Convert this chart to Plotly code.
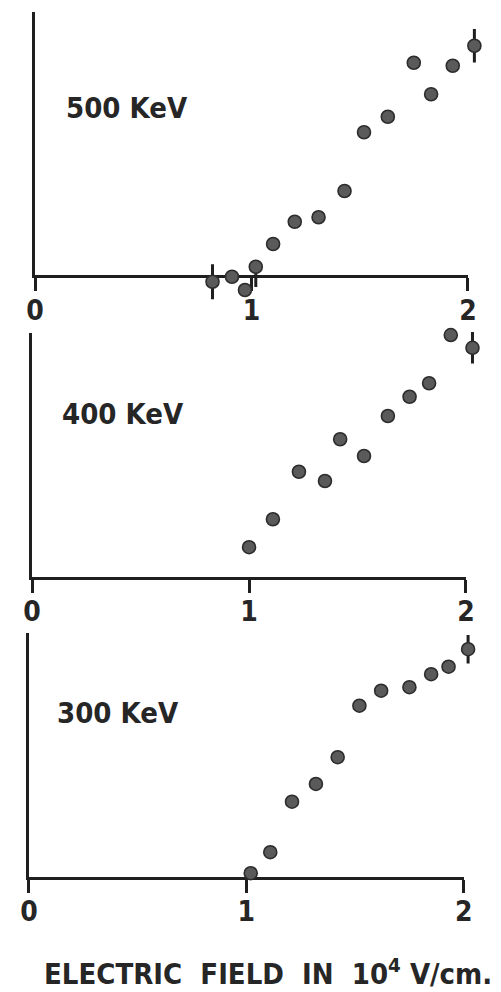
import plotly.graph_objects as go

# ---- data (relative units; horizontal axis: electric field in 10^4 V/cm) ----
energies = ["500 KeV", "400 KeV", "300 KeV"]

x500 = [0.82, 0.91, 0.97, 1.02, 1.10, 1.20, 1.31, 1.43, 1.52, 1.63, 1.75, 1.83, 1.93, 2.03]
y500 = [-0.27, -0.07, -0.60, 0.33, 1.24, 2.13, 2.31, 3.36, 5.71, 6.33, 8.49, 7.23, 8.37, 9.17]
e500_plus = [0.70, 0, 0, 0.20, 0, 0, 0, 0, 0, 0, 0, 0, 0, 0.67]
e500_minus = [0.70, 0, 0, 0.81, 0, 0, 0, 0, 0, 0, 0, 0, 0, 0.67]

x400 = [1.00, 1.11, 1.23, 1.35, 1.42, 1.53, 1.64, 1.74, 1.83, 1.93, 2.03]
y400 = [1.18, 2.30, 4.20, 3.83, 5.50, 4.83, 6.43, 7.20, 7.74, 9.67, 9.16]
e400 = [0, 0, 0, 0, 0, 0, 0, 0, 0, 0, 0.63]

x300 = [1.02, 1.11, 1.21, 1.32, 1.42, 1.52, 1.62, 1.75, 1.85, 1.93, 2.02]
y300 = [0.14, 0.98, 3.00, 3.71, 4.78, 6.84, 7.44, 7.58, 8.10, 8.40, 9.10]
e300 = [0, 0, 0, 0, 0, 0, 0, 0, 0, 0, 0.57]

x_ticks = [0, 1, 2]
x_ticklabels = ["0", "1", "2"]
x_title = "ELECTRIC\u00a0\u00a0FIELD\u00a0\u00a0IN\u00a0\u00a010<sup>4</sup>\u00a0V/cm."

# ---- styling ----
W, H = 501, 992
INK = "#1f1f1f"
TXT = "#262626"
FONT = "DejaVu Sans Condensed, DejaVu Sans"
marker = dict(size=13, color="#5a5a5a", line=dict(width=1.6, color="#2c2c2c"))

series = [
    (x500, y500, e500_plus, e500_minus),
    (x400, y400, e400, e400),
    (x300, y300, e300, e300),
]

# panel geometry in pixels: (x of 0, x of 2, baseline y, top y, y-range top)
panels = [
    (27, 476, 275, 12, 10.52),
    (24, 474, 576.7, 333.3, 9.74),
    (20.7, 471.7, 876.7, 632.7, 9.76),
]
label_pos = [(57, 108), (53, 414), (48, 712.5)]

# extra room for the data axes so that points beyond the frame stay visible
XPAD = (-0.05, 0.08)
YPAD = (-1.1, 0.3)

fig = go.Figure()
layout = dict(
    width=W, height=H,
    margin=dict(l=0, r=0, t=0, b=0),
    paper_bgcolor="white", plot_bgcolor="rgba(0,0,0,0)",
    showlegend=False,
    font=dict(family=FONT, color=TXT),
)
annotations = []

for i, (x0, x2, yb, yt, ytop) in enumerate(panels):
    n = "" if i == 0 else str(i + 1)
    # frame axes: lines, ticks and labels
    layout["xaxis" + n] = dict(
        domain=[x0 / W, x2 / W], range=[x_ticks[0], x_ticks[-1]], anchor="y" + n,
        showline=True, linecolor=INK, linewidth=3, showgrid=False, zeroline=False,
        ticks="outside", ticklen=13, tickwidth=3, tickcolor=INK,
        tickvals=x_ticks, ticktext=x_ticklabels, ticklabelstandoff=-5,
        tickfont=dict(size=28, family=FONT, color=TXT, weight="bold"),
        layer="below traces", fixedrange=True,
    )
    layout["yaxis" + n] = dict(
        domain=[1 - yb / H, 1 - yt / H], range=[0, ytop], anchor="x" + n,
        showline=True, linecolor=INK, linewidth=3, showgrid=False, zeroline=False,
        showticklabels=False, ticks="", layer="below traces", fixedrange=True,
    )
    fig.add_trace(go.Scatter(x=[None], y=[None], mode="markers",
                             xaxis="x" + n, yaxis="y" + n, hoverinfo="skip"))

for i, ((xs, ys, ep, em), (x0, x2, yb, yt, ytop)) in enumerate(zip(series, panels)):
    n = str(i + 4)
    xppu = (x2 - x0) / (x_ticks[-1] - x_ticks[0])
    yppu = (yb - yt) / ytop
    xr = [x_ticks[0] + XPAD[0], x_ticks[-1] + XPAD[1]]
    yr = [YPAD[0], ytop + YPAD[1]]
    fig.add_trace(go.Scatter(
        x=xs, y=ys, mode="markers", marker=marker, cliponaxis=False,
        error_y=dict(type="data", symmetric=False, array=ep, arrayminus=em,
                     thickness=3, width=0, color=INK),
        xaxis="x" + n, yaxis="y" + n, hoverinfo="skip",
    ))
    layout["xaxis" + n] = dict(
        domain=[(x0 + xr[0] * xppu) / W, (x0 + xr[1] * xppu) / W], range=xr,
        anchor="y" + n, visible=False, fixedrange=True,
    )
    layout["yaxis" + n] = dict(
        domain=[1 - (yb - yr[0] * yppu) / H, 1 - (yb - yr[1] * yppu) / H], range=yr,
        anchor="x" + n, visible=False, fixedrange=True,
    )

for i, name in enumerate(energies):
    lx, ly = label_pos[i]
    annotations.append(dict(
        text=name, x=lx / W, y=1 - ly / H, xref="paper", yref="paper",
        showarrow=False, xanchor="left", yanchor="middle",
        font=dict(size=29, family=FONT, color=TXT, weight="bold"),
    ))

annotations.append(dict(
    text=x_title, x=268.5 / W, y=1 - 972 / H, xref="paper", yref="paper",
    showarrow=False, xanchor="center", yanchor="middle",
    font=dict(size=29, family=FONT, color=TXT, weight="bold"),
))
layout["annotations"] = annotations
fig.update_layout(**layout)

fig.write_html("out.html", config={"displayModeBar": False},
               post_script="document.body.style.margin='0';")
